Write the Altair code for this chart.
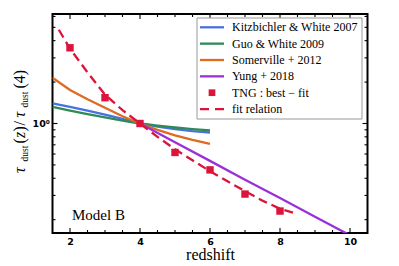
import altair as alt
import pandas as pd

# ---------------- data ----------------
Z_KW = [1.5, 2, 2.5, 3, 3.5, 4, 4.5, 5, 5.5, 6]
T_KW = [1.40, 1.32, 1.24, 1.16, 1.08, 1.0, 0.95, 0.91, 0.88, 0.86]

Z_GW = [1.5, 2, 2.5, 3, 3.5, 4, 4.5, 5, 5.5, 6]
T_GW = [1.32, 1.24, 1.17, 1.11, 1.05, 1.0, 0.965, 0.935, 0.91, 0.89]

Z_SO = [1.5, 2, 2.5, 3, 3.5, 4, 4.5, 5, 5.5, 6]
T_SO = [2.15, 1.75, 1.50, 1.30, 1.13, 1.0, 0.90, 0.82, 0.76, 0.71]

Z_YU = [4, 5, 6, 7, 8, 9, 10]
T_YU = [1.0, 0.73, 0.535, 0.39, 0.287, 0.21, 0.154]

Z_TNG = [2, 3, 4, 5, 6, 7, 8]
T_TNG = [3.55, 1.54, 1.0, 0.616, 0.46, 0.307, 0.231]

Z_FIT = [1.68, 2, 2.5, 3, 3.5, 4, 4.5, 5, 5.5, 6, 6.5, 7, 7.5, 8, 8.5]
T_FIT = [4.8, 3.5, 2.35, 1.62, 1.25, 1.0, 0.80, 0.65, 0.54, 0.45, 0.38, 0.322, 0.275, 0.24, 0.22]

LINE_SERIES = ["Kitzbichler & White 2007", "Guo & White 2009", "Somerville + 2012", "Yung + 2018"]
LINE_COLORS = ["#4a6fe3", "#2e8b57", "#dd6b20", "#9b30d9"]
LINE_DATA = [(Z_KW, T_KW), (Z_GW, T_GW), (Z_SO, T_SO), (Z_YU, T_YU)]
RED = "#dc143c"

LEGEND_LABELS = LINE_SERIES + ["TNG :  best \u2212 fit", "fit relation"]

X_MAJOR = [2, 4, 6, 8, 10]
X_MINOR = [2.5, 3, 3.5, 4.5, 5, 5.5, 6.5, 7, 7.5, 8.5, 9, 9.5]
Y_MAJOR = [1]
Y_MINOR = [0.2, 0.3, 0.4, 0.5, 0.6, 0.7, 0.8, 0.9, 2, 3, 4, 5, 6]

W, H = 315, 219

XS = alt.Scale(domain=[1.5, 10.5], nice=False, zero=False)
YS = alt.Scale(type="log", domain=[0.16, 6.25], nice=False)
XAX = alt.Axis(values=X_MAJOR, title="redshift", grid=False, ticks=False, tickSize=0,
               domain=False, labelFont="DejaVu Sans", labelFontWeight="bold",
               labelFontSize=9.5, labelPadding=3, labelColor="black",
               titleFont="Liberation Serif", titleFontSize=16, titleFontWeight="normal",
               titleColor="black", titlePadding=1)
YAX = alt.Axis(values=Y_MAJOR, labelExpr="'10\u2070'", title=None, grid=False, ticks=False,
               tickSize=0, domain=False, labelFont="DejaVu Sans", labelFontWeight="bold",
               labelFontSize=9.5, labelPadding=3, labelColor="black")

ONE = pd.DataFrame({"k": [0]})

layers = []

# model lines
for (zs, ts), col in zip(LINE_DATA, LINE_COLORS):
    df = pd.DataFrame({"z": zs, "tau": ts})
    layers.append(
        alt.Chart(df).mark_line(color=col, strokeWidth=2.3, clip=True).encode(
            x=alt.X("z:Q", scale=XS, axis=XAX),
            y=alt.Y("tau:Q", scale=YS, axis=YAX),
        )
    )

# fit relation (dashed)
fit_df = pd.DataFrame({"z": Z_FIT, "tau": T_FIT})
layers.append(
    alt.Chart(fit_df).mark_line(color=RED, strokeWidth=2.3, strokeDash=[9, 5], clip=True).encode(
        x=alt.X("z:Q", scale=XS, axis=XAX),
        y=alt.Y("tau:Q", scale=YS, axis=YAX),
    )
)

# TNG squares
tng_df = pd.DataFrame({"z": Z_TNG, "tau": T_TNG})
layers.append(
    alt.Chart(tng_df).mark_square(color=RED, size=55, opacity=1).encode(
        x=alt.X("z:Q", scale=XS, axis=XAX),
        y=alt.Y("tau:Q", scale=YS, axis=YAX),
    )
)

# inward ticks
def xticks(vals, length):
    d = pd.DataFrame({"v": vals})
    bot = alt.Chart(d).mark_rule(color="black", strokeWidth=1.1).encode(
        x=alt.X("v:Q", scale=XS, axis=XAX), y=alt.value(H), y2=alt.value(H - length))
    top = alt.Chart(d).mark_rule(color="black", strokeWidth=1.1).encode(
        x=alt.X("v:Q", scale=XS, axis=XAX), y=alt.value(0), y2=alt.value(length))
    return [bot, top]

def yticks(vals, length):
    d = pd.DataFrame({"v": vals})
    left = alt.Chart(d).mark_rule(color="black", strokeWidth=1.1).encode(
        y=alt.Y("v:Q", scale=YS, axis=YAX), x=alt.value(0), x2=alt.value(length))
    right = alt.Chart(d).mark_rule(color="black", strokeWidth=1.1).encode(
        y=alt.Y("v:Q", scale=YS, axis=YAX), x=alt.value(W), x2=alt.value(W - length))
    return [left, right]

layers += xticks(X_MAJOR, 5) + xticks(X_MINOR, 3) + yticks(Y_MAJOR, 5) + yticks(Y_MINOR, 3)

# legend
LX0, LX1, LY0, LY1 = 144.5, 309.5, 4, 105
layers.append(
    alt.Chart(ONE).mark_rect(fill="white", stroke="#999999", strokeWidth=1).encode(
        x=alt.value(LX0), x2=alt.value(LX1), y=alt.value(LY0), y2=alt.value(LY1))
)
row0, dy = 13.3, 16.35
for i, lab in enumerate(LEGEND_LABELS):
    yc = row0 + i * dy
    if i < 4:
        layers.append(alt.Chart(ONE).mark_rule(color=LINE_COLORS[i], strokeWidth=2.3).encode(
            x=alt.value(147.5), x2=alt.value(171.5), y=alt.value(yc)))
    elif i == 4:
        layers.append(alt.Chart(ONE).mark_square(color=RED, size=45, opacity=1).encode(
            x=alt.value(159.5), y=alt.value(yc)))
    else:
        layers.append(alt.Chart(ONE).mark_rule(color=RED, strokeWidth=2.3, strokeDash=[9, 6]).encode(
            x=alt.value(147.5), x2=alt.value(171.5), y=alt.value(yc)))
    layers.append(alt.Chart(ONE).mark_text(align="left", baseline="middle", font="Liberation Serif",
                                           fontSize=12, color="black").encode(
        x=alt.value(179.5), y=alt.value(yc), text=alt.value(lab)))

# Model B annotation
layers.append(alt.Chart(ONE).mark_text(align="left", baseline="middle", font="Liberation Serif",
                                       fontSize=15, color="black").encode(
    x=alt.value(19.5), y=alt.value(201), text=alt.value("Model B")))

# rotated y-axis title pieces: (text, y start, x baseline, size, style)
MAIN_X, SUB_X = -27.5, -24.2
TITLE_PIECES = [
    ("\u03c4", 159, MAIN_X, 16, "italic"),
    ("dust", 147.5, SUB_X, 9.5, "normal"),
    ("(", 129.5, MAIN_X, 16, "normal"),
    ("z", 124, MAIN_X, 16, "italic"),
    (")", 117.5, MAIN_X, 16, "normal"),
    ("/", 111.5, MAIN_X, 16, "normal"),
    ("\u03c4", 103.5, MAIN_X, 16, "italic"),
    ("dust", 93.5, SUB_X, 9.5, "normal"),
    ("(4)", 74.5, MAIN_X, 16, "normal"),
]
for txt, ys, xb, fs, st in TITLE_PIECES:
    layers.append(alt.Chart(ONE).mark_text(align="left", baseline="alphabetic", angle=270,
                                           font="Liberation Serif", fontSize=fs, fontStyle=st,
                                           color="black").encode(
        x=alt.value(xb), y=alt.value(ys), text=alt.value(txt)))

chart = alt.layer(*layers).properties(
    width=W, height=H,
    background="white",
    autosize=alt.AutoSizeParams(type="none"),
    padding={"left": 44.5, "top": 6, "right": 10, "bottom": 30},
).configure_view(stroke="black", strokeWidth=2)

chart.save("out.html", embed_options={"renderer": "svg", "actions": False})
